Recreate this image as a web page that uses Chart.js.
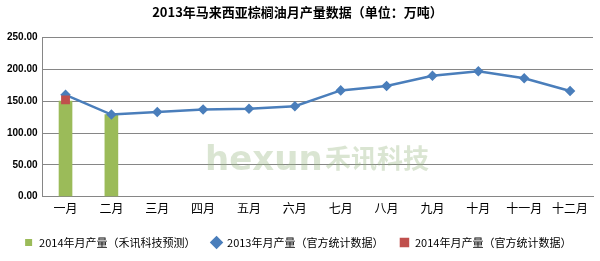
<!DOCTYPE html>
<html>
<head>
<meta charset="utf-8">
<script src="https://cdn.jsdelivr.net/npm/chart.js@4"></script>
<style>
  html, body { margin: 0; padding: 0; background: #fff; }
  #wrap { width: 600px; height: 261px; }
</style>
</head>
<body>
<div id="wrap"><canvas id="barCanvas" aria-label="chart" role="img"></canvas></div>
<script>
const months = ["一月", "二月", "三月", "四月", "五月", "六月", "七月", "八月", "九月", "十月", "十一月", "十二月"];
const forecast2014 = [150, 129];
const official2013 = [160, 129, 133, 137, 138, 142, 167, 174, 190, 197, 186, 166];
const official2014 = [152];

const cjk = "'Noto Sans CJK SC', 'Noto Sans', sans-serif";

// faint watermark behind the lines
const watermark = {
  id: "watermark",
  beforeDatasetsDraw(chart) {
    const ctx = chart.ctx;
    const base = chart.chartArea.bottom - 27;
    ctx.save();
    ctx.fillStyle = "rgba(150, 180, 125, 0.35)";
    ctx.font = "bold 34px 'DejaVu Sans', sans-serif";
    ctx.textBaseline = "alphabetic";
    ctx.fillText("hexun", 205, base);
    ctx.font = "bold 26px " + cjk;
    ctx.fillText("禾讯科技", 325, base - 2);
    ctx.restore();
  }
};

new Chart(document.getElementById("barCanvas"), {
  data: {
    labels: months,
    datasets: [
      {
        type: "bar",
        label: "2014年月产量（禾讯科技预测）",
        data: forecast2014,
        backgroundColor: "#9bbb59",
        barThickness: 13,
        order: 3,
        pointStyle: "rect"
      },
      {
        type: "line",
        label: "2013年月产量（官方统计数据）",
        data: official2013,
        borderColor: "#4a7ebb",
        backgroundColor: "#4a7ebb",
        borderWidth: 2.5,
        pointStyle: "rectRot",
        pointRadius: 3.5,
        tension: 0,
        order: 2
      },
      {
        type: "line",
        label: "2014年月产量（官方统计数据）",
        data: official2014,
        borderColor: "#c0504d",
        backgroundColor: "#c0504d",
        borderWidth: 2.5,
        pointStyle: "rect",
        pointRadius: 4.5,
        order: 1
      }
    ]
  },
  options: {
    responsive: true,
    maintainAspectRatio: false,
    animation: false,
    layout: { padding: { left: 2, right: 7, top: 0, bottom: 3 } },
    scales: {
      x: {
        grid: { display: false, drawTicks: false },
        border: { color: "#868686" },
        ticks: { color: "#000", font: { family: cjk, size: 12 }, padding: 5, autoSkip: false, maxRotation: 0 }
      },
      y: {
        min: 0,
        max: 250,
        ticks: {
          stepSize: 50,
          color: "#000",
          padding: 5,
          font: { family: "'Liberation Sans', sans-serif", size: 10, weight: "bold" },
          callback: (v) => v.toFixed(2)
        },
        grid: { color: "#868686", drawTicks: false },
        border: { color: "#868686" }
      }
    },
    plugins: {
      title: {
        display: true,
        text: "2013年马来西亚棕榈油月产量数据（单位：万吨）",
        color: "#000",
        font: { family: cjk, size: 13, weight: "bold" },
        padding: { top: 4, bottom: 18 }
      },
      legend: {
        position: "bottom",
        labels: {
          color: "#000",
          font: { family: cjk, size: 11 },
          usePointStyle: true,
          boxWidth: 10,
          boxHeight: 7,
          padding: 16,
          sort: (a, b) => a.datasetIndex - b.datasetIndex
        }
      },
      tooltip: { enabled: false }
    }
  },
  plugins: [watermark]
});
</script>
</body>
</html>
